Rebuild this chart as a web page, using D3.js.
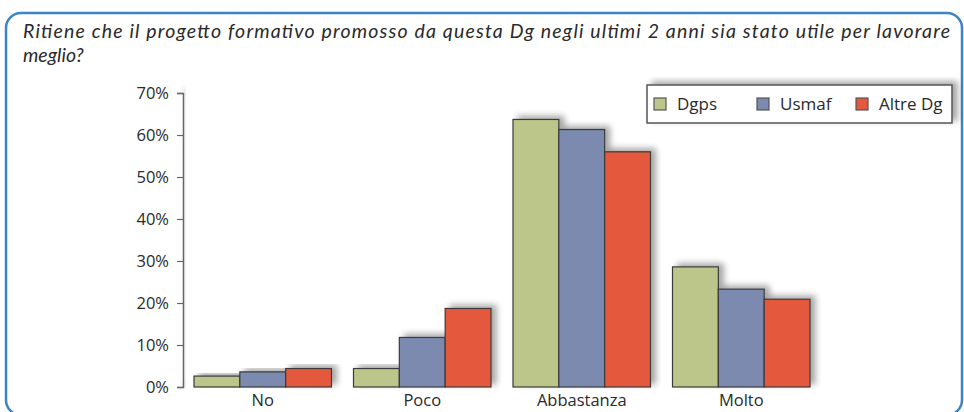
<!DOCTYPE html>
<meta charset="utf-8">
<style>
body { margin: 0; background: #fff; }
text { font-family: "Open Sans", sans-serif; fill: #2a2a2a; }
</style>
<svg width="964" height="412"></svg>
<script src="https://d3js.org/d3.v7.min.js"></script>
<script>

// data
var categories = ["No", "Poco", "Abbastanza", "Molto"];
var seriesNames = ["Dgps", "Usmaf", "Altre Dg"];
var dgps  = [2.6, 4.4, 63.7, 28.6];
var usmaf = [3.6, 11.8, 61.3, 23.3];
var altre = [4.4, 18.7, 56.0, 20.9];
var yTicks = [0, 10, 20, 30, 40, 50, 60, 70];
var titleLines = ["Ritiene che il progetto formativo promosso da questa Dg negli ultimi 2 anni sia stato utile per lavorare",
                  "meglio?"];

var colours = ["#bcc68a", "#7c8ab0", "#e4583e"];
var series = [dgps, usmaf, altre];

var svg = d3.select("svg");

// drop shadow used by the bars, axis and legend
var defs = svg.append("defs");
var f = defs.append("filter").attr("id", "shadow")
    .attr("x", "-20%").attr("y", "-20%").attr("width", "150%").attr("height", "150%");
f.append("feGaussianBlur").attr("in", "SourceAlpha").attr("stdDeviation", 3).attr("result", "blur");
f.append("feOffset").attr("in", "blur").attr("dx", 5).attr("dy", -3).attr("result", "off");
f.append("feComponentTransfer").attr("in", "off").attr("result", "soft")
  .append("feFuncA").attr("type", "linear").attr("slope", 0.35);
var m = f.append("feMerge");
m.append("feMergeNode").attr("in", "soft");
m.append("feMergeNode").attr("in", "SourceGraphic");

// blue frame
svg.append("rect")
   .attr("x", 6).attr("y", 13)
   .attr("width", 956).attr("height", 402)
   .attr("rx", 15).attr("ry", 15)
   .style("fill", "none")
   .style("stroke", "#3d84c6")
   .style("stroke-width", 2.5);

// title, one text per line; first line fitted to the original width
var titles = svg.selectAll(".title").data(titleLines).enter().append("text")
   .attr("class", "title")
   .attr("x", 23)
   .attr("y", function(d, i) { return 38 + i * 24; })
   .style("font-family", "Lato, sans-serif")
   .style("font-style", "italic")
   .style("font-size", "19px")
   .text(function(d) { return d; });
var firstLen = titles.node().getComputedTextLength();
var titleSize = Math.min(19.5, 19 * 927 / firstLen);
titles.style("font-size", titleSize + "px");
titles.filter(function(d, i) { return i == 0; })
   .attr("textLength", 927).attr("lengthAdjust", "spacing");

var margin = {left: 183, right: 143, top: 93, bottom: 25};
var width = 964 - margin.left - margin.right,
    height = 412 - margin.top - margin.bottom;

var g = svg.append("g").attr("transform", "translate(" + margin.left + "," + margin.top + ")");

var y = d3.scaleLinear().domain([0, 70]).range([height, 0]);
var x0 = d3.scaleBand().domain(categories).range([0, width]).paddingInner(0.138).paddingOuter(0.069);
var x1 = d3.scaleBand().domain(d3.range(seriesNames.length)).range([0, x0.bandwidth()]);

// y axis
var yAxis = g.append("g")
   .call(d3.axisLeft(y).tickValues(yTicks).tickSize(6).tickPadding(8)
         .tickFormat(function(d) { return d + "%"; }));
yAxis.select(".domain").attr("stroke", "#666").attr("stroke-width", 1.5).attr("filter", "url(#shadow)");
yAxis.selectAll(".tick line").attr("stroke", "#666").attr("stroke-width", 1.2);
yAxis.selectAll(".tick text")
   .attr("font-family", null).attr("font-size", null)
   .style("font-family", "'Open Sans', sans-serif")
   .style("font-size", "16.5px")
   .attr("fill", "#2a2a2a");

// bars
var groups = g.selectAll(".grp").data(categories).enter().append("g")
   .attr("class", "grp")
   .attr("transform", function(d) { return "translate(" + x0(d) + ",0)"; });

groups.selectAll("rect")
   .data(function(d, ci) { return series.map(function(s, si) { return {si: si, v: s[ci]}; }); })
   .enter().append("rect")
   .attr("x", function(d) { return x1(d.si); })
   .attr("y", function(d) { return y(d.v); })
   .attr("width", x1.bandwidth())
   .attr("height", function(d) { return height - y(d.v); })
   .attr("filter", "url(#shadow)")
   .style("fill", function(d) { return colours[d.si]; })
   .style("stroke", "#3a3a3a")
   .style("stroke-width", 1.2);

// category labels
g.selectAll(".cat").data(categories).enter().append("text")
   .attr("class", "cat")
   .attr("x", function(d) { return x0(d) + x0.bandwidth() / 2; })
   .attr("y", height + 19)
   .attr("text-anchor", "middle")
   .style("font-size", "16.5px")
   .text(function(d) { return d; });

// legend
var legend = svg.append("g").attr("transform", "translate(647,85)");
legend.append("rect")
   .attr("width", 305).attr("height", 38)
   .attr("filter", "url(#shadow)")
   .style("fill", "#fff")
   .style("stroke", "#555")
   .style("stroke-width", 1.5);
var legX = [7, 110, 209];
var items = legend.selectAll(".item").data(seriesNames).enter().append("g")
   .attr("class", "item")
   .attr("transform", function(d, i) { return "translate(" + legX[i] + ",13)"; });
items.append("rect")
   .attr("width", 12).attr("height", 12)
   .style("fill", function(d, i) { return colours[i]; })
   .style("stroke", "#555")
   .style("stroke-width", 1.2);
items.append("text")
   .attr("x", 23).attr("y", 12)
   .style("font-size", "17px")
   .text(function(d) { return d; });

</script>
